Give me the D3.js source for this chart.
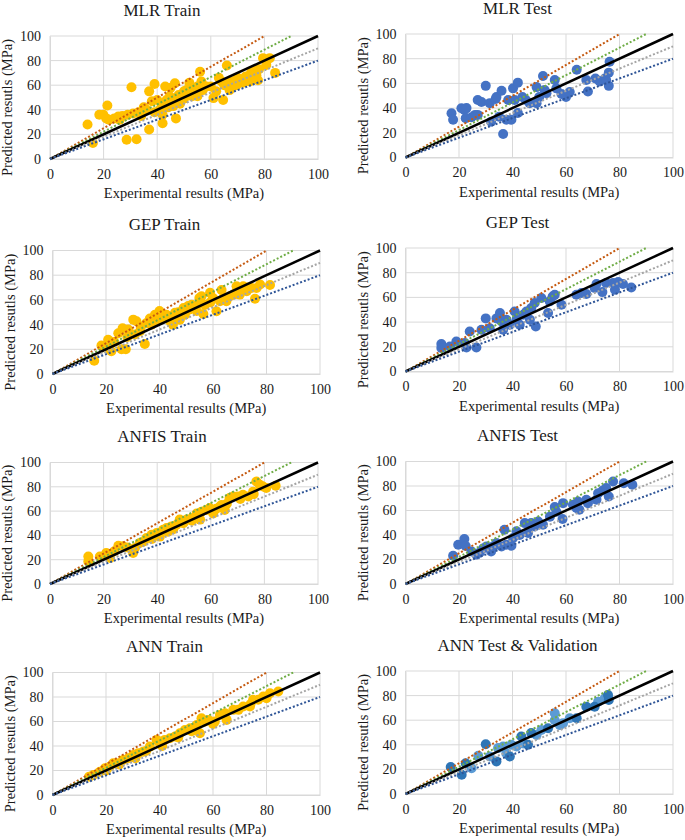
<!DOCTYPE html>
<html><head><meta charset="utf-8">
<script src="https://cdn.jsdelivr.net/npm/d3@7"></script>
<style>body{margin:0;background:#fff}svg{display:block}svg text{font-family:"Liberation Serif","Times New Roman",serif !important;fill:#1a1a1a}</style>
</head><body>
<svg id="c" width="685" height="840"></svg>
<script>
const ticks = [0, 20, 40, 60, 80, 100];
const refSlopes = [1.25, 1 / 0.9, 1, 0.9, 0.8];
const refColors = ["#C55A11", "#70AD47", "#000000", "#A5A5A5", "#2F5597"];
const titles = ["MLR Train", "MLR Test", "GEP Train", "GEP Test", "ANFIS Train", "ANFIS Test", "ANN Train", "ANN Test & Validation"];
const xTitle = "Experimental results (MPa)";
const yTitle = "Predicted resutls (MPa)";

const mlrTrain = [[14,28],[16,13],[18.4,36],[19.9,36],[21,33],[21.4,43.5],[22,32],[24,33],[25.5,34.6],[27,35],[29,36],[31,37],[28.6,15.7],[32.3,16],[30.4,58.4],[37,55],[39,61],[37,24],[38,47],[40,48],[41,40],[42,29],[43,59],[45,58],[46.6,61.6],[47,33],[46,43],[48.5,45],[50,49],[43.5,48],[44.7,51],[41.6,45],[51,56],[52,62],[53,51],[55,59],[56,71],[56.5,63],[55,51],[57,56],[58.4,59],[61,49.5],[63,66],[64,63],[64.6,48],[66,76],[66.5,62],[67,56],[68,59],[69.6,60],[71,64],[72,62],[73,67],[74.5,63],[76,72],[77,68],[77.6,64],[79.5,82],[80.7,76.5],[82,82],[84,70],[34,35],[36,40],[39,38],[44,42],[48,52],[50,55],[53,57],[60,59],[62,55],[65,60],[70,66],[75,70],[78,73],[68,63],[35,42],[42,36],[47,48],[57,60],[26,32],[33,38]];
const mlrTest = [[17.2,35.8],[17.8,30.5],[20.9,39.9],[22,38.5],[22.8,40],[22.5,31.8],[24.7,32.6],[26,34.5],[27,34.5],[27,46.6],[28.4,45],[30,58],[31.5,44],[32,29],[33.7,47.4],[34,49],[35,33],[35.9,54],[36.5,19],[37.7,30.5],[38.4,46.6],[39.6,30.5],[40.2,56],[40.8,46.6],[42,60.6],[42,36],[43.7,49],[45,46.6],[46.4,44],[49,57],[49,44],[50,49],[51.4,66],[52,54.7],[52.7,52],[55.8,62.8],[56.4,56],[58.3,51.5],[60,49],[61.4,53],[64,71],[67.6,62.8],[68.2,53.4],[71,64],[72.6,61.5],[74.5,64],[75,62.8],[76,58],[76,68.7],[76.3,77.6]];
const gepTrain = [[15.6,10.8],[18.3,23],[20.8,27.8],[20,21],[22,18.4],[24.6,33],[26.2,37],[25.8,20],[27.4,20],[28.3,36],[30.2,44],[31.4,42.7],[30.8,32],[32.7,34.6],[34.5,24.3],[35,41],[36.4,45],[38.3,48],[40,51],[40.8,45],[42.6,48],[44,42.7],[45,40],[45.8,49.5],[47.6,44],[49,53.5],[49.5,48],[50.7,55],[52,56],[53.9,51],[54.9,61.6],[55.7,63],[56.4,48.6],[57,56],[58.9,65.7],[60,61.6],[61.3,50.8],[62.6,59],[63.2,68],[65,59],[66.3,63],[67.6,64.3],[68.8,71],[70,64.3],[71.3,71],[72.6,67],[74.4,69.7],[75.7,61],[76.3,69.7],[77.6,72.4],[81.3,72],[33,38],[37,40],[39,43],[43,46],[47,50],[51,52],[55,57],[59,58],[64,62],[69,67],[73,70],[28,30],[23,26]];
const gepTest = [[13.4,22.2],[13.4,19],[16.6,20.3],[19,24.3],[22.2,23],[22.8,19.5],[24,32.4],[26.5,19.5],[28.4,33.8],[30,43],[31.5,35],[34,43],[35.3,47.3],[35.9,40.5],[36.5,33.8],[37.7,42],[39,37.8],[40.8,48.6],[41.5,42],[42.7,37.8],[44,46],[45.2,48.6],[46.5,42],[47,51.4],[48.3,55.4],[48.7,36.5],[50.8,59.5],[53.3,47.3],[53.9,56.8],[55,60.8],[55.8,62.2],[58.3,54],[63.9,62.2],[65.8,63.5],[67.6,62.7],[70.7,67.6],[71.4,70.8],[73.6,64.3],[75,71.6],[77.6,71.6],[78.3,66.2],[79.5,72.4],[81.3,70.8],[84.4,68]];
const anfisTrain = [[14.3,22.7],[14.3,18.6],[18.6,22.7],[21,25.5],[22.4,21.4],[25.5,31.5],[27.3,31],[31,25.5],[31.7,29.6],[33.5,33.7],[36,37.8],[37.9,40.5],[39.8,42],[41,39],[42.2,44.7],[43.5,46],[45.3,47.4],[47.2,48.8],[48.4,53],[49.7,50],[51,53],[52.8,54],[54.7,58],[56,53],[56.5,59.5],[58.4,61],[59.6,62.5],[60.9,58],[63.4,63.8],[65.2,61],[67,70.7],[68.3,72],[70,72],[72,73.4],[74,72],[75.8,76],[77,84.4],[78.3,81.6],[79.5,80.3],[80.7,79],[84.2,80.8],[24,27],[29,30],[35,35],[38,37],[44,43],[46,45],[50,51],[53,52],[55,56],[62,62],[64,65],[66,66],[71,70],[76,74]];
const anfisTest = [[17.8,23],[19.7,32],[22,36.7],[22.5,31],[24.7,26.6],[26.5,24],[27.8,25.8],[29,29],[30.3,30.7],[32,26.6],[32.8,30.7],[34,33.4],[35.9,30.7],[37,44.3],[37.7,32],[39.6,31.2],[40.2,37.5],[41.5,43],[42.7,40],[44.6,49.7],[45.8,41.6],[47,49.7],[48.3,47],[49.6,51],[51.4,48.4],[54,55],[55.8,62.8],[56.4,59],[58.7,53],[58.9,66],[62.6,64.7],[63.9,62],[64.5,67.4],[65,60.6],[67.6,68.8],[68.2,66],[71.4,68.8],[72,74],[73.8,76.4],[75,78.3],[76,71.5],[77.6,83.7],[81.6,82.3],[84.8,81]];
const annTrain = [[13.7,15],[15.2,16.3],[17.7,19],[19.6,21.8],[21.4,23],[22.7,25.9],[24.6,25.9],[26.4,28.6],[28.3,30],[30.2,32.7],[32,34],[33.9,35.4],[36.4,39.5],[38.9,45],[40.1,42.2],[42,45],[43.9,46.3],[45.8,47.7],[47.6,50.4],[49.5,53],[51.4,54.5],[53.9,57.2],[55.1,50.4],[55.7,62.7],[57,60],[58.2,61.3],[60.7,60],[62.6,65.4],[64.5,66.8],[65.1,61.3],[67.6,69.5],[69.5,69.5],[71.3,72.2],[73.8,72.2],[75,77.7],[76.9,77.7],[78.8,80.4],[81.3,83.1],[84.4,84.5],[20,20],[25,25],[31,30],[35,36],[41,40],[47,47],[52,52],[60,58],[74,74],[80,79]];
const annTest = [[16.9,21.9],[21,15.7],[22.5,25],[30,40.5],[34,26.5],[39,30.5],[43.3,46.8],[45.8,40],[47,49.5],[53.3,53.5],[64,61.6],[67.6,71],[70.7,71],[75.7,80.5],[76,76.5]];
const annValidation = [[24.7,21],[27.2,31],[31.5,30.5],[34.6,37.3],[36.5,38.6],[37.7,33],[39.6,40],[41.5,38.6],[44,41],[49,48],[50.8,52],[55.8,65.7],[55.8,60],[57.7,56],[58.9,57.6],[61.4,61.6],[72,75],[74.5,77.8]];

const panels = [
  {l:50, r:318, t:36, b:159, series:[{d:mlrTrain, c:"#FFC000"}]},
  {l:405.5, r:673, t:34, b:157.5, series:[{d:mlrTest, c:"#4472C4"}]},
  {l:52.5, r:320, t:250.5, b:374, series:[{d:gepTrain, c:"#FFC000"}]},
  {l:405.5, r:673, t:248, b:371.5, series:[{d:gepTest, c:"#4472C4"}]},
  {l:50, r:318, t:462.5, b:584, series:[{d:anfisTrain, c:"#FFC000"}]},
  {l:405.5, r:673, t:461.5, b:584, series:[{d:anfisTest, c:"#4472C4"}]},
  {l:52.5, r:320, t:672.5, b:795, series:[{d:annTrain, c:"#FFC000"}]},
  {l:405.5, r:673, t:671, b:794, series:[{d:annValidation, c:"#5B9BD5"},{d:annTest, c:"#2E75B6"}]}
];

const FONT = '"Liberation Serif", "Times New Roman", serif';
const svg = d3.select("#c");
panels.forEach((p, i) => {
  const x = d3.scaleLinear().domain([0, 100]).range([p.l, p.r]);
  const y = d3.scaleLinear().domain([0, 100]).range([p.b, p.t]);
  const g = svg.append("g");
  g.selectAll("line.gx").data(ticks).join("line").attr("class","gx")
    .attr("x1", d => x(d)).attr("x2", d => x(d)).attr("y1", p.t).attr("y2", p.b)
    .attr("stroke", "#D9D9D9").attr("stroke-width", 1);
  g.selectAll("line.gy").data(ticks).join("line").attr("class","gy")
    .attr("x1", p.l).attr("x2", p.r).attr("y1", d => y(d)).attr("y2", d => y(d))
    .attr("stroke", "#D9D9D9").attr("stroke-width", 1);
  const xa = g.append("g").attr("transform", `translate(0,${p.b})`)
    .call(d3.axisBottom(x).tickValues(ticks).tickSize(0).tickPadding(10));
  const ya = g.append("g").attr("transform", `translate(${p.l},0)`)
    .call(d3.axisLeft(y).tickValues(ticks).tickSize(0).tickPadding(9));
  [xa, ya].forEach(a => {
    a.attr("font-family", FONT).attr("font-size", 14);
    a.select(".domain").attr("stroke", "#D9D9D9");
    a.selectAll("text").attr("fill", "#1a1a1a");
  });
  p.series.forEach(s => {
    g.append("g").selectAll("circle").data(s.d).join("circle")
      .attr("cx", d => x(d[0])).attr("cy", d => y(d[1])).attr("r", 5)
      .attr("fill", s.c);
  });
  refSlopes.forEach((m, k) => {
    const xe = Math.min(100, 100 / m);
    g.append("line")
      .attr("x1", x(0)).attr("y1", y(0)).attr("x2", x(xe)).attr("y2", y(m * xe))
      .attr("stroke", refColors[k])
      .attr("stroke-width", k === 2 ? 2.5 : 2)
      .attr("stroke-dasharray", k === 2 ? null : "2,2");
  });
  g.append("text").attr("x", p.l + 112).attr("y", p.t - 26).attr("dy", "0.35em")
    .attr("text-anchor", "middle").attr("font-family", FONT).attr("font-size", 17).text(titles[i]);
  g.append("text").attr("x", (p.l + p.r) / 2).attr("y", p.b + 34).attr("dy", "0.35em")
    .attr("text-anchor", "middle").attr("font-family", FONT).attr("font-size", 14.5).text(xTitle);
  g.append("text").attr("transform", `translate(${p.l - 43},${(p.t + p.b) / 2 + 10}) rotate(-90)`)
    .attr("dy", "0.35em").attr("text-anchor", "middle").attr("font-family", FONT).attr("font-size", 14.5).text(yTitle);
});
</script>
</body></html>
